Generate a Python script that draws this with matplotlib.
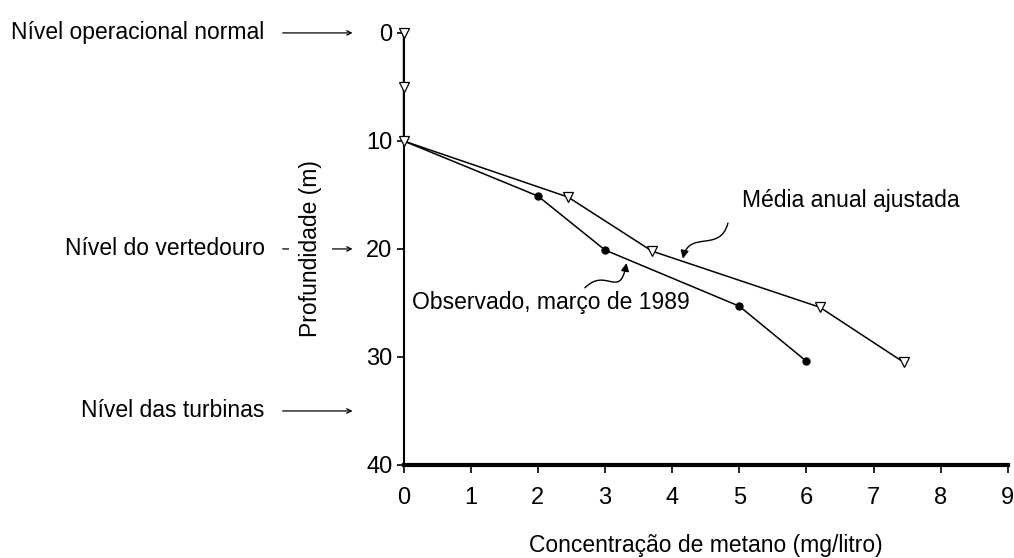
import numpy as np
import matplotlib.pyplot as plt
from matplotlib.path import Path
from matplotlib.patches import FancyArrowPatch

# data
obs_conc = [0, 2.0, 3.0, 5.0, 6.0]
obs_depth = [10, 15.1, 20.1, 25.3, 30.4]
media_conc = [0, 0, 0, 2.45, 3.7, 6.2, 7.45]
media_depth = [0, 5, 10, 15.2, 20.2, 25.4, 30.5]

xticks = list(range(0, 10))
yticks = [0, 10, 20, 30, 40]

left_labels = ['Nível operacional normal', 'Nível do vertedouro', 'Nível das turbinas']
left_depths = [0, 20, 35]

plt.rcParams['font.family'] = ['Liberation Sans', 'DejaVu Sans']
fs = 16.5

fig = plt.figure(figsize=(10.14, 5.58), dpi=100)
ax = fig.add_axes([0.398, 0.1667, 0.596, 0.7743])

ax.plot(obs_conc, obs_depth, color='black', lw=1.1, marker='o', ms=5,
        markevery=[1, 2, 3, 4], zorder=3)
ax.plot(media_conc, media_depth, color='black', lw=1.1, marker='v', ms=7.5,
        mfc='white', mec='black', mew=0.9, zorder=4, clip_on=False)

ax.set_xlim(0, 9)
ax.set_ylim(40, 0)
ax.set_xticks(xticks)
ax.set_yticks(yticks)
ax.tick_params(axis='both', labelsize=17, direction='out', width=1.2)
ax.tick_params(axis='y', length=5, pad=3)
ax.tick_params(axis='x', length=6, pad=10)
for s in ['top', 'right']:
    ax.spines[s].set_visible(False)
ax.spines['left'].set_linewidth(1.5)
ax.spines['bottom'].set_linewidth(3)

ax.set_xlabel('Concentração de metano (mg/litro)', fontsize=fs, va='top')
ax.xaxis.set_label_coords(0.5, -0.16)
ax.set_ylabel('Profundidade (m)', fontsize=fs,
              bbox=dict(facecolor='white', edgecolor='none', pad=7))
ax.yaxis.set_label_coords(-0.135, 0.5)

# level labels on the left with arrows (drawn under the y label)
for lab, d in zip(left_labels, left_depths):
    ax.annotate('', xy=(-0.76, d), xytext=(-1.8, d), annotation_clip=False,
                arrowprops=dict(arrowstyle='->', lw=0.9, color='black',
                                shrinkA=0, shrinkB=0, mutation_scale=8),
                zorder=0.5)
    ax.text(-2.07, d, lab, fontsize=fs, ha='right', va='center', clip_on=False)

# series labels with wavy arrows
ax.text(5.04, 15.5, 'Média anual ajustada', fontsize=fs, ha='left', va='center')
ax.text(0.13, 25.0, 'Observado, março de 1989', fontsize=fs, ha='left', va='center')

curves = [
    [(4.83, 17.6), (4.72, 20.4), (4.25, 18.2), (4.16, 20.9)],
    [(2.70, 23.6), (3.02, 21.6), (3.22, 24.8), (3.32, 21.3)],
]
for pts in curves:
    p = Path(pts, [Path.MOVETO, Path.CURVE4, Path.CURVE4, Path.CURVE4])
    arr = FancyArrowPatch(path=p, arrowstyle='-|>', mutation_scale=12,
                          lw=1.0, color='black', zorder=5)
    ax.add_patch(arr)

fig.savefig('out.png', dpi=100)
